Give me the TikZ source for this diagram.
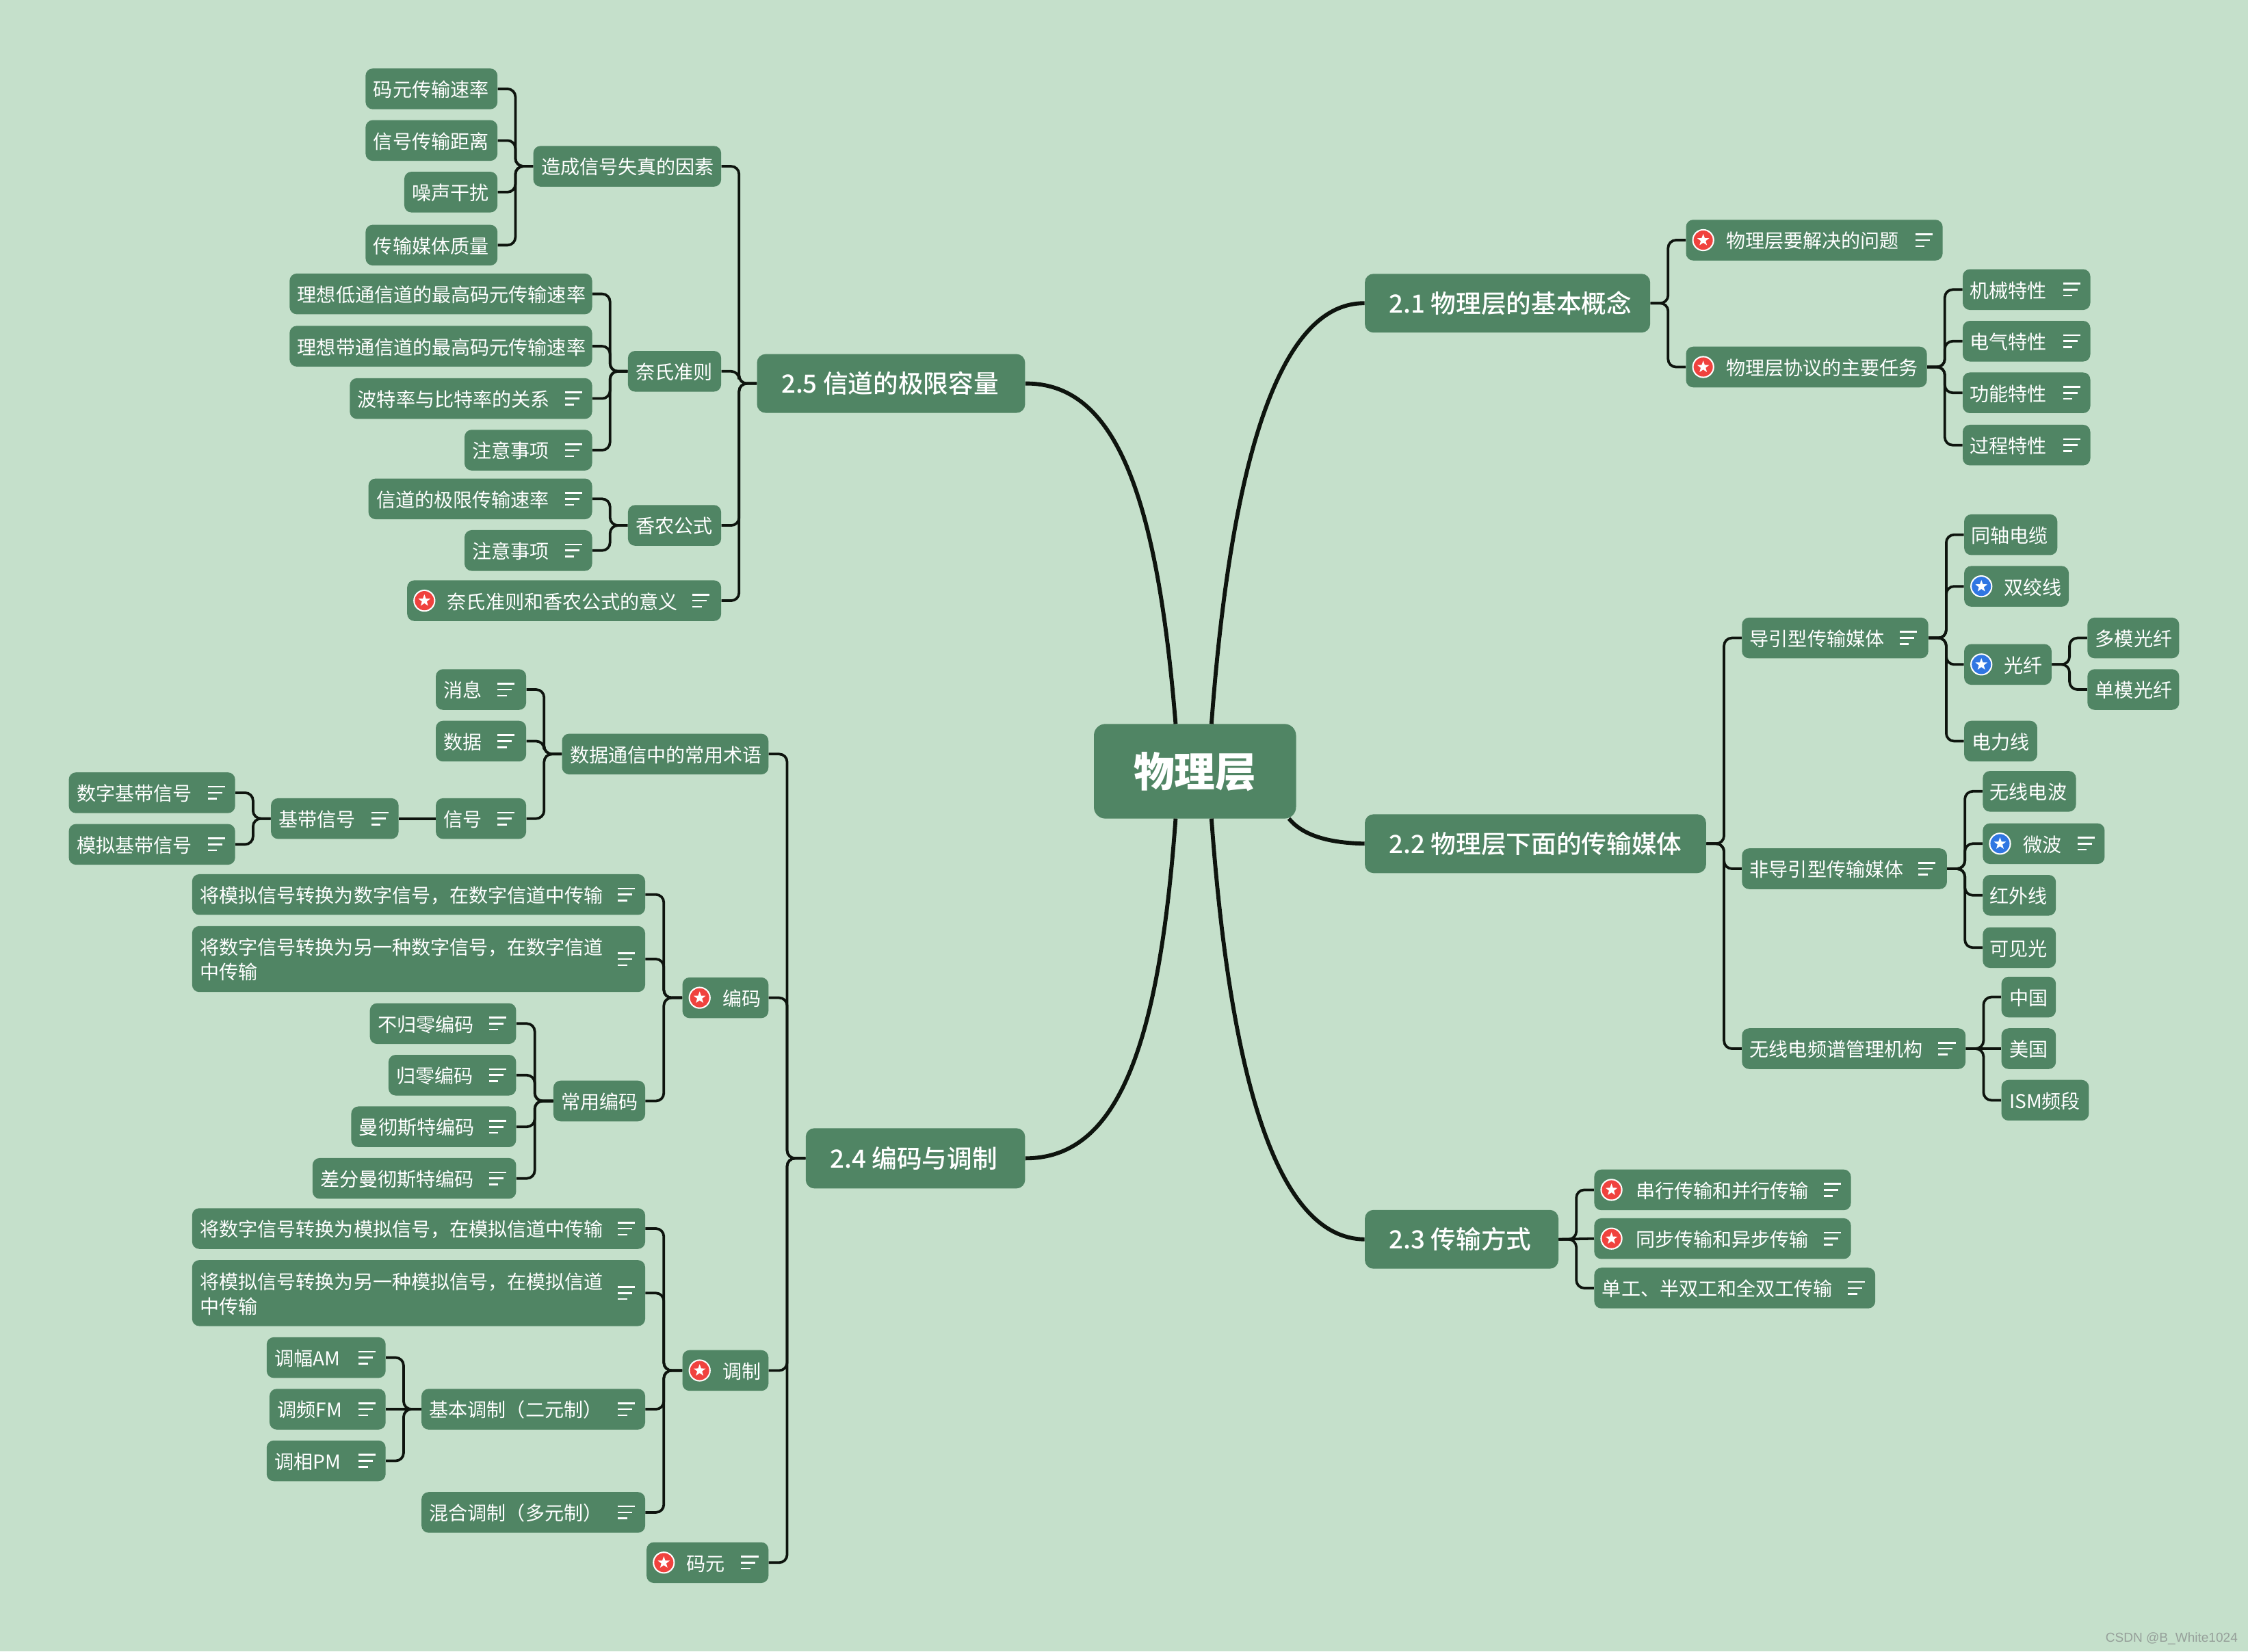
\documentclass[tikz,border=0pt]{standalone}
\usepackage{fontspec}
\setmainfont{Noto Sans CJK SC}
\newfontfamily\medfont{Noto Sans CJK SC Medium}
\newfontfamily\wmfont{Liberation Sans}
\usetikzlibrary{calc}
\definecolor{bgc}{RGB}{197,224,203}
\definecolor{boxc}{RGB}{80,133,100}
\definecolor{linec}{RGB}{14,20,14}
\definecolor{redc}{RGB}{240,66,62}
\definecolor{bluec}{RGB}{48,118,226}
\definecolor{wmc}{RGB}{150,160,154}
\tikzset{
  kidbox/.style={fill=boxc,rounded corners=5pt,inner sep=0pt,text=white,minimum height=28.4pt,font=\fontsize{13.4}{17}\selectfont},
  topicbox/.style={fill=boxc,rounded corners=6pt,inner sep=0pt,text=white,font=\fontsize{17.5}{21}\medfont},
  rootbox/.style={fill=boxc,rounded corners=8pt,inner sep=0pt,text=white,font=\fontsize{28.5}{32}\selectfont\bfseries},
  conn/.style={draw=linec,line width=1.8pt,rounded corners=5.5pt},
  mainconn/.style={draw=linec,line width=2.8pt},
  noteline/.style={draw=white,line width=1.25pt},
}
\newcommand\strt{\rule[-0.07em]{0pt}{1em}}
\newcommand\strtb{\rule[-0.12em]{0pt}{1em}}
\newcommand\kid[6]{% name,x1,x2,cy,offset,text
  \pgfmathsetmacro\ww{#3-#2}\pgfmathsetmacro\cc{(#2+#3)/2}
  \node[kidbox,minimum width=\ww pt] (#1) at (\cc,#4) {\hbox to \ww pt{\hskip #5pt\strt #6\hss}};}
\newcommand\kidtwo[7]{% name,x1,x2,y1,y2,line1,line2
  \pgfmathsetmacro\ww{#3-#2}\pgfmathsetmacro\cc{(#2+#3)/2}\pgfmathsetmacro\hh{#5-#4}\pgfmathsetmacro\yy{(#4+#5)/2}
  \node[kidbox,minimum width=\ww pt,minimum height=\hh pt] (#1) at (\cc,\yy) {\vbox{\hbox to \ww pt{\hskip 5.5pt\strt #6\hss}\vskip 0.2pt\hbox to \ww pt{\hskip 5.5pt\strt #7\hss}}};}
\newcommand\topic[6]{% name,x1,x2,y1,y2,text
  \pgfmathsetmacro\ww{#3-#2}\pgfmathsetmacro\cc{(#2+#3)/2}\pgfmathsetmacro\hh{#5-#4}\pgfmathsetmacro\yy{(#4+#5)/2}
  \node[topicbox,minimum width=\ww pt,minimum height=\hh pt] (#1) at (\cc,\yy) {\hbox to \ww pt{\hskip 17pt\strtb #6\hss}};}
\newcommand\notes[2]{% node, x centre
  \draw[noteline] ($(#2,0 |- #1.center)+(-6,-4.2)$) -- ++(12,0);
  \draw[noteline] ($(#2,0 |- #1.center)+(-6,0)$) -- ++(10,0);
  \draw[noteline] ($(#2,0 |- #1.center)+(-6,4.2)$) -- ++(6.5,0);}
\newcommand\badge[3]{% colour, node, x
  \fill[white] (#3,0 |- #2.center) circle (7.7);
  \fill[#1] (#3,0 |- #2.center) circle (6.7);
  \fill[white,shift={(#3,0 |- #2.center)}] (90:-4.4)--(126:-1.8)--(162:-4.4)--(198:-1.8)--(234:-4.4)--(270:-1.8)--(306:-4.4)--(342:-1.8)--(18:-4.4)--(54:-1.8)--cycle;}
\newcommand\linkR[2]{%
  \coordinate (mm) at ($(#1.east)!0.5!(#2.west)$);
  \draw[conn] (#1.east) -- (mm |- #1.east) |- (#2.west);}
\newcommand\linkL[2]{%
  \coordinate (mm) at ($(#1.west)!0.5!(#2.east)$);
  \draw[conn] (#1.west) -- (mm |- #1.west) |- (#2.east);}
\begin{document}
\begin{tikzpicture}[x=1pt,y=-1pt]
\useasboundingbox (0,0) rectangle (1568,1152);
\fill[bgc] (0,0) rectangle (1568,1152);
% root
\node[rootbox,minimum width=141pt,minimum height=66pt] (root) at (833.5,538) {\strtb 物理层};
% 2.1
\topic{t21}{952}{1151}{191}{232}{2.1 物理层的基本概念}
\kid{a1}{1176}{1355}{167.5}{28}{物理层要解决的问题}
\kid{a2}{1176}{1344}{256}{28}{物理层协议的主要任务}
\kid{a21}{1369}{1458}{202}{5}{机械特性}
\kid{a22}{1369}{1458}{238}{5}{电气特性}
\kid{a23}{1369}{1458}{274}{5}{功能特性}
\kid{a24}{1369}{1458}{310.5}{5}{过程特性}
\badge{redc}{a1}{1188}\notes{a1}{1342}
\badge{redc}{a2}{1188}
\notes{a21}{1445}\notes{a22}{1445}\notes{a23}{1445}\notes{a24}{1445}
% 2.2
\topic{t22}{952}{1190}{568}{609}{2.2 物理层下面的传输媒体}
\kid{b1}{1215}{1345}{445}{5.5}{导引型传输媒体}
\kid{b11}{1370}{1435}{373}{5}{同轴电缆}
\kid{b12}{1370}{1443}{409}{28}{双绞线}
\kid{b13}{1370}{1431}{463.5}{28}{光纤}
\kid{b131}{1456}{1520}{445}{5.5}{多模光纤}
\kid{b132}{1456}{1520}{481}{5.5}{单模光纤}
\kid{b14}{1370}{1421}{517}{5.5}{电力线}
\kid{b2}{1215}{1358}{606}{5.5}{非导引型传输媒体}
\kid{b21}{1383}{1448}{552}{5}{无线电波}
\kid{b22}{1383}{1468}{588.5}{28}{微波}
\kid{b23}{1383}{1434}{624.5}{5}{红外线}
\kid{b24}{1383}{1434}{661}{5}{可见光}
\kid{b3}{1215}{1371}{731.5}{5.5}{无线电频谱管理机构}
\kid{b31}{1396}{1434}{695.5}{5.5}{中国}
\kid{b32}{1396}{1434}{731.5}{5.5}{美国}
\kid{b33}{1396}{1457}{767.5}{5.5}{ISM频段}
\notes{b1}{1331}\notes{b2}{1344}\notes{b3}{1358}\notes{b22}{1455}
\badge{bluec}{b12}{1382}\badge{bluec}{b13}{1382}\badge{bluec}{b22}{1395}
% 2.3
\topic{t23}{952}{1087}{844}{885}{2.3 传输方式}
\kid{c1}{1112}{1291}{830}{29}{串行传输和并行传输}
\kid{c2}{1112}{1291}{864}{29}{同步传输和异步传输}
\kid{c3}{1112}{1308}{898.5}{5.5}{单工、半双工和全双工传输}
\badge{redc}{c1}{1124}\badge{redc}{c2}{1124}
\notes{c1}{1278}\notes{c2}{1278}\notes{c3}{1295}
% 2.5
\topic{t25}{528}{715}{247}{288}{2.5 信道的极限容量}
\kid{d1}{372}{503}{116}{5.5}{造成信号失真的因素}
\kid{d11}{255}{347}{62}{5.5}{码元传输速率}
\kid{d12}{255}{347}{98}{5.5}{信号传输距离}
\kid{d13}{282}{347}{134}{5.5}{噪声干扰}
\kid{d14}{255}{347}{171}{5.5}{传输媒体质量}
\kid{d2}{438}{503}{259}{5.5}{奈氏准则}
\kid{d21}{202}{413}{205}{5.5}{理想低通信道的最高码元传输速率}
\kid{d22}{202}{413}{241.5}{5.5}{理想带通信道的最高码元传输速率}
\kid{d23}{244}{413}{278}{5.5}{波特率与比特率的关系}
\kid{d24}{324}{413}{314}{5.5}{注意事项}
\kid{d3}{438}{503}{366.5}{5.5}{香农公式}
\kid{d31}{257}{413}{348}{5.5}{信道的极限传输速率}
\kid{d32}{324}{413}{384}{5.5}{注意事项}
\kid{d4}{284}{503}{419}{28}{奈氏准则和香农公式的意义}
\notes{d23}{400}\notes{d24}{400}\notes{d31}{400}\notes{d32}{400}\notes{d4}{489}
\badge{redc}{d4}{296}
% 2.4
\topic{t24}{562}{715}{787}{829}{2.4 编码与调制}
\kid{e1}{392}{536}{526}{5.5}{数据通信中的常用术语}
\kid{e11}{304}{367}{481}{5.5}{消息}
\kid{e12}{304}{367}{517}{5.5}{数据}
\kid{e13}{304}{367}{571}{5.5}{信号}
\kid{e131}{189}{278}{571}{5.5}{基带信号}
\kid{e1311}{48}{164}{553}{5.5}{数字基带信号}
\kid{e1312}{48}{164}{589}{5.5}{模拟基带信号}
\notes{e11}{353}\notes{e12}{353}\notes{e13}{353}\notes{e131}{265}\notes{e1311}{151}\notes{e1312}{151}
\kid{e2}{476}{536}{696}{28}{编码}
\kid{e21}{134}{450}{624}{5.5}{将模拟信号转换为数字信号，在数字信道中传输}
\kidtwo{e22}{134}{450}{646}{692}{将数字信号转换为另一种数字信号，在数字信道}{中传输}
\kid{e23}{386}{450}{768}{5.5}{常用编码}
\kid{e231}{258}{360}{714}{5.5}{不归零编码}
\kid{e232}{271}{360}{750}{5.5}{归零编码}
\kid{e233}{245}{360}{786}{5.5}{曼彻斯特编码}
\kid{e234}{218}{360}{822}{5.5}{差分曼彻斯特编码}
\badge{redc}{e2}{488}
\notes{e21}{437}\notes{e22}{437}\notes{e231}{347}\notes{e232}{347}\notes{e233}{347}\notes{e234}{347}
\kid{e3}{476}{536}{956}{28}{调制}
\kid{e31}{134}{450}{857}{5.5}{将数字信号转换为模拟信号，在模拟信道中传输}
\kidtwo{e32}{134}{450}{879}{925}{将模拟信号转换为另一种模拟信号，在模拟信道}{中传输}
\kid{e33}{294}{450}{983}{5.5}{基本调制（二元制）}
\kid{e331}{186}{269}{947}{5.5}{调幅AM}
\kid{e332}{188}{269}{983}{5.5}{调频FM}
\kid{e333}{186}{269}{1019}{5.5}{调相PM}
\kid{e34}{294}{450}{1055}{5.5}{混合调制（多元制）}
\badge{redc}{e3}{488}
\notes{e31}{437}\notes{e32}{437}\notes{e33}{437}\notes{e34}{437}\notes{e331}{256}\notes{e332}{256}\notes{e333}{256}
\kid{e4}{451}{536}{1090}{28}{码元}
\badge{redc}{e4}{463}\notes{e4}{523}
% watermark
\node[anchor=east,inner sep=0pt,text=wmc,font=\fontsize{9.1}{11}\wmfont] (wm) at (1561,1143) {CSDN @B\_White1024};
% main connectors
\coordinate (r21) at (845,505);
\coordinate (r25) at (820,505);
\coordinate (r24) at (820,571);
\coordinate (r23) at (845,571);
\coordinate (r22) at (899,571);
\draw[mainconn] (r21) .. controls (858,330) and (890,211) .. (t21.west);
\draw[mainconn] (r25) .. controls (807,345) and (778,267) .. (t25.east);
\draw[mainconn] (r24) .. controls (808,735) and (778,808) .. (t24.east);
\draw[mainconn] (r23) .. controls (858,750) and (890,864) .. (t23.west);
\draw[mainconn] (r22) .. controls (908,582) and (925,588) .. (t22.west);
% branch connectors
\linkR{t21}{a1}\linkR{t21}{a2}
\linkR{a2}{a21}\linkR{a2}{a22}\linkR{a2}{a23}\linkR{a2}{a24}
\linkR{t22}{b1}\linkR{t22}{b2}\linkR{t22}{b3}
\linkR{b1}{b11}\linkR{b1}{b12}\linkR{b1}{b13}\linkR{b1}{b14}
\linkR{b13}{b131}\linkR{b13}{b132}
\linkR{b2}{b21}\linkR{b2}{b22}\linkR{b2}{b23}\linkR{b2}{b24}
\linkR{b3}{b31}\draw[conn] (b3.east) -- (b32.west);\linkR{b3}{b33}
\linkR{t23}{c1}\draw[conn] (t23.east) -- (c2.west);\linkR{t23}{c3}
\linkL{t25}{d1}\linkL{t25}{d2}\linkL{t25}{d3}\linkL{t25}{d4}
\linkL{d1}{d11}\linkL{d1}{d12}\linkL{d1}{d13}\linkL{d1}{d14}
\linkL{d2}{d21}\linkL{d2}{d22}\linkL{d2}{d23}\linkL{d2}{d24}
\linkL{d3}{d31}\linkL{d3}{d32}
\linkL{t24}{e1}\linkL{t24}{e2}\linkL{t24}{e3}\linkL{t24}{e4}
\linkL{e1}{e11}\linkL{e1}{e12}\linkL{e1}{e13}
\draw[conn] (e13.west) -- (e131.east);
\linkL{e131}{e1311}\linkL{e131}{e1312}
\linkL{e2}{e21}\linkL{e2}{e22}\linkL{e2}{e23}
\linkL{e23}{e231}\linkL{e23}{e232}\linkL{e23}{e233}\linkL{e23}{e234}
\linkL{e3}{e31}\linkL{e3}{e32}\linkL{e3}{e33}\linkL{e3}{e34}
\linkL{e33}{e331}\draw[conn] (e33.west) -- (e332.east);\linkL{e33}{e333}
\end{tikzpicture}
\end{document}
